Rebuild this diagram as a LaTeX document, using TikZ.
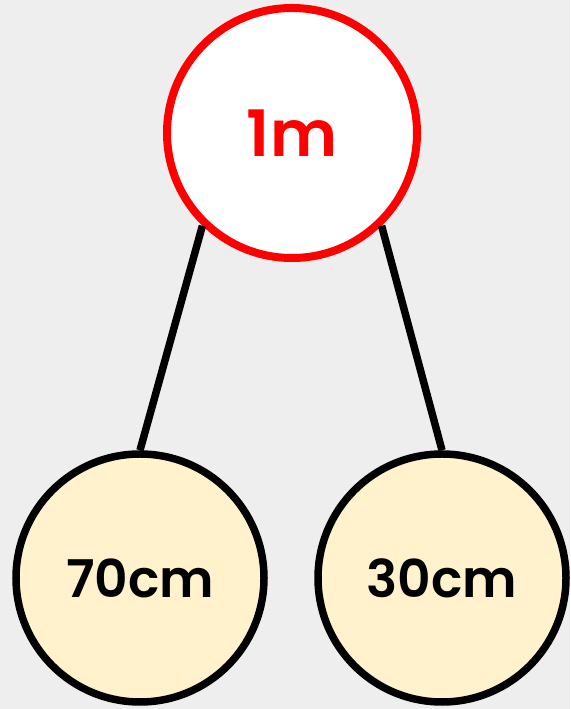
\documentclass[tikz,border=0pt]{standalone}
\usepackage{fontspec}
\setmainfont{Poppins}[BoldFont={Poppins SemiBold}]
\usepackage{tikz}
\usetikzlibrary{positioning}
\definecolor{bgGray}{HTML}{EEEEEE}
\definecolor{wholeRed}{HTML}{FF0000}
\definecolor{partCream}{HTML}{FFF2CC}
\tikzset{
    whole/.style={circle,draw=wholeRed,line width=8pt,fill=white,minimum size=250pt,inner sep=0pt,
        text=wholeRed,font=\fontsize{64}{70}\selectfont\bfseries},
    part/.style={circle,draw=black,line width=7.5pt,fill=partCream,minimum size=248pt,inner sep=0pt,
        font=\fontsize{52}{58}\selectfont\bfseries},
    link/.style={line width=7.5pt}
}

\begin{document}
\begin{tikzpicture}[x=1pt,y=1pt]
    \fill[bgGray] (0,0) rectangle (570,709);
    \useasboundingbox (0,0) rectangle (570,709);

    \node[whole] (metre) at (292,576) {1m};
    \node[part] (seventy) at (140,131) {70cm};
    \node[part] (thirty) at (442,131) {30cm};

    \draw[link] (metre.226) -- (seventy.north);
    \draw[link] (metre.314) -- (thirty.north);
\end{tikzpicture}
\end{document}
